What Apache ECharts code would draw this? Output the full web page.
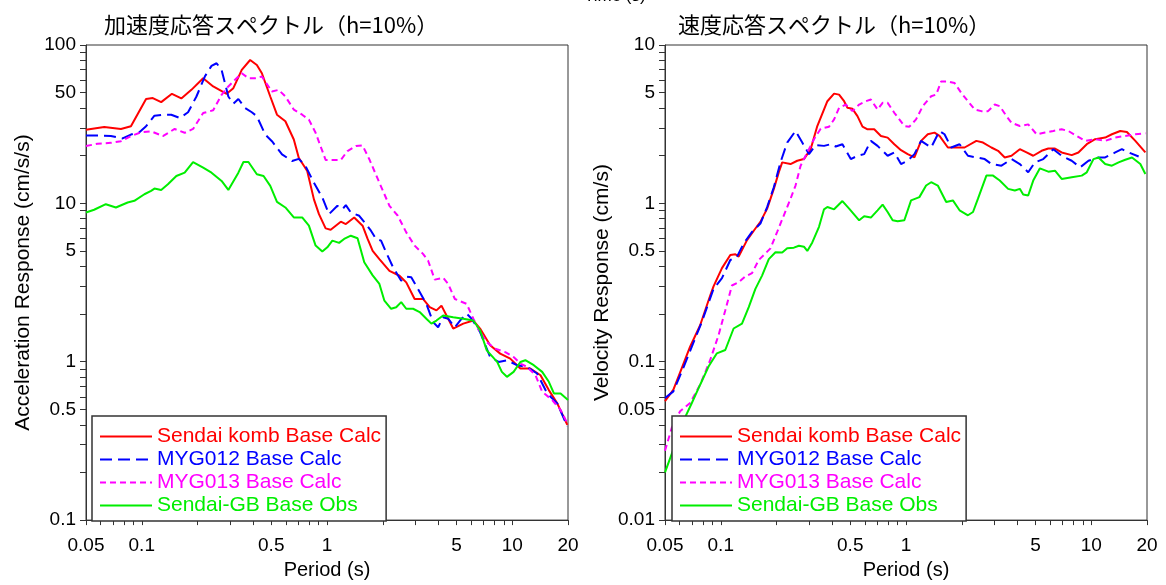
<!DOCTYPE html>
<html>
<head>
<meta charset="utf-8">
<script src="https://cdn.jsdelivr.net/npm/echarts@6/dist/echarts.min.js"></script>
<style>
  html, body { margin: 0; padding: 0; background: #fff; }
  #chart { width: 1166px; height: 585px; }
</style>
</head>
<body>
<div id="chart"></div>
<script>
// 凡例名
const seriesNames = ['Sendai komb Base Calc', 'MYG012 Base Calc', 'MYG013 Base Calc', 'Sendai-GB Base Obs'];

// 加速度応答スペクトル [周期(s), 応答(cm/s/s)]
const accKomb = [[0.05,29.2],[0.0627,30.4],[0.0772,29.5],[0.0874,30.7],[0.1055,45.6],[0.1147,46.2],[0.1273,43.6],[0.1455,49.2],[0.1635,46.0],[0.1853,52.1],[0.2145,61.7],[0.243,54.7],[0.2872,49.2],[0.3122,53.4],[0.3466,69.6],[0.3847,80.4],[0.4181,74.8],[0.4451,66.3],[0.494,47.3],[0.537,36.3],[0.596,33.0],[0.662,25.3],[0.704,19.4],[0.782,16.0],[0.85,10.6],[0.905,8.55],[0.983,6.95],[1.047,6.82],[1.187,7.66],[1.264,7.40],[1.402,8.15],[1.556,7.23],[1.657,5.96],[1.764,5.01],[1.918,4.44],[2.173,3.75],[2.463,3.49],[2.678,3.17],[2.972,2.49],[3.298,2.49],[3.585,2.21],[3.897,2.11],[4.149,2.26],[4.417,1.96],[4.8,1.62],[5.441,1.74],[6.166,1.82],[6.705,1.62],[7.598,1.27],[8.61,1.125],[9.757,1.046],[11.06,0.906],[12.53,0.906],[14.21,0.822],[15.76,0.662],[17.5,0.546],[19.83,0.399]];
const accMyg012 = [[0.05,26.8],[0.0601,26.8],[0.0681,26.6],[0.0788,25.7],[0.0874,27.2],[0.0971,28.1],[0.1055,30.7],[0.1171,35.8],[0.13,36.3],[0.1443,36.3],[0.1602,34.6],[0.1778,37.6],[0.1973,47.3],[0.219,63.2],[0.238,73.8],[0.2534,76.7],[0.2698,69.6],[0.2933,47.3],[0.3122,42.6],[0.3323,45.6],[0.3613,40.0],[0.3927,37.6],[0.4181,35.5],[0.464,27.2],[0.5043,24.7],[0.5718,20.4],[0.6479,18.5],[0.704,19.1],[0.7656,17.2],[0.85,13.5],[0.9432,10.9],[1.0254,8.55],[1.138,9.65],[1.212,9.19],[1.264,9.74],[1.345,8.76],[1.493,8.35],[1.623,7.40],[1.727,6.72],[1.839,5.96],[1.958,5.82],[2.084,4.91],[2.266,3.98],[2.515,3.25],[2.678,3.44],[2.85,3.41],[3.098,2.88],[3.439,2.32],[3.738,1.78],[3.98,1.65],[4.236,1.91],[4.51,1.87],[4.901,1.65],[5.329,1.87],[5.673,2.01],[6.039,1.87],[6.705,1.54],[7.598,1.07],[8.441,0.997],[9.359,1.022],[10.61,0.951],[12.02,0.928],[13.62,0.843],[15.44,0.631],[17.5,0.546],[19.83,0.39]];
const accMyg013 = [[0.05,23.0],[0.0576,23.8],[0.0681,24.1],[0.0772,24.7],[0.0874,26.6],[0.0991,28.1],[0.1123,28.5],[0.13,26.6],[0.1505,29.5],[0.1705,27.9],[0.1892,29.5],[0.2145,37.2],[0.243,38.7],[0.2698,48.5],[0.2933,54.7],[0.3188,60.3],[0.3466,66.3],[0.3767,61.7],[0.4095,61.7],[0.4451,63.2],[0.5043,50.9],[0.5482,52.1],[0.596,47.3],[0.662,39.1],[0.7345,36.3],[0.7985,33.8],[0.868,27.9],[0.983,18.8],[1.092,18.8],[1.187,18.8],[1.29,21.4],[1.432,23.0],[1.556,23.2],[1.692,19.0],[1.918,13.5],[2.173,9.65],[2.412,8.35],[2.678,6.56],[2.972,5.41],[3.298,4.80],[3.511,4.36],[3.817,3.30],[4.236,3.39],[4.51,3.10],[4.901,2.49],[5.673,2.32],[6.166,1.87],[6.705,1.54],[7.288,1.33],[8.088,1.21],[9.167,1.15],[10.17,1.07],[11.06,0.974],[12.02,0.928],[13.35,0.822],[14.51,0.646],[16.44,0.573],[18.24,0.496],[19.83,0.409]];
const accGB = [[0.05,8.76],[0.0553,9.11],[0.064,9.88],[0.0725,9.42],[0.0839,10.13],[0.0912,10.38],[0.1033,11.42],[0.1123,11.99],[0.1171,12.4],[0.1273,12.16],[0.1384,13.2],[0.1537,14.89],[0.1705,15.63],[0.1892,18.24],[0.2145,16.8],[0.238,15.63],[0.2698,13.85],[0.2933,12.16],[0.3323,15.63],[0.3539,18.24],[0.3767,18.24],[0.4181,15.26],[0.4545,14.89],[0.494,12.89],[0.537,10.22],[0.596,9.42],[0.662,8.15],[0.7345,8.15],[0.7985,7.23],[0.868,5.41],[0.9432,4.96],[1.004,5.28],[1.069,5.82],[1.162,5.63],[1.237,5.96],[1.345,6.25],[1.462,6.02],[1.589,4.25],[1.764,3.51],[1.918,3.1],[2.041,2.43],[2.219,2.16],[2.364,2.21],[2.515,2.38],[2.678,2.16],[2.915,2.16],[3.164,2.06],[3.439,1.87],[3.661,1.74],[3.897,1.82],[4.236,1.96],[4.8,1.91],[5.441,1.87],[6.166,1.82],[6.705,1.58],[7.288,1.18],[8.29,0.997],[8.79,0.863],[9.359,0.803],[10.17,0.863],[11.06,0.997],[11.77,1.022],[13.07,0.951],[14.51,0.863],[15.76,0.747],[16.79,0.631],[18.24,0.631],[20,0.573]];

// 速度応答スペクトル [周期(s), 応答(cm/s)]
const velKomb = [[0.05,0.0563],[0.0555,0.0666],[0.0616,0.091],[0.0683,0.1244],[0.0774,0.170],[0.0877,0.262],[0.0914,0.299],[0.1015,0.39],[0.1126,0.472],[0.1199,0.477],[0.1249,0.461],[0.1386,0.586],[0.1538,0.694],[0.1637,0.764],[0.178,0.926],[0.1934,1.235],[0.2058,1.571],[0.2146,1.815],[0.238,1.771],[0.2588,1.858],[0.2812,1.904],[0.3056,2.199],[0.332,3.078],[0.3763,4.416],[0.409,4.932],[0.4352,4.861],[0.4633,4.416],[0.483,4.01],[0.514,3.954],[0.547,3.556],[0.5823,3.049],[0.6199,2.934],[0.6737,2.934],[0.7321,2.666],[0.7959,2.602],[0.8647,2.363],[0.9399,2.168],[1.0214,2.046],[1.11,1.95],[1.206,2.48],[1.311,2.731],[1.425,2.798],[1.517,2.666],[1.683,2.253],[1.829,2.253],[2.072,2.253],[2.397,2.48],[2.605,2.421],[2.89,2.253],[3.141,2.147],[3.413,1.95],[3.71,1.998],[4.116,2.199],[4.474,2.096],[4.862,1.998],[5.395,2.147],[5.864,2.22],[6.373,2.22],[6.925,2.096],[7.845,2.017],[8.528,2.096],[9.461,2.363],[10.5,2.541],[11.89,2.602],[12.93,2.731],[14.34,2.865],[15.58,2.823],[17.3,2.48],[19.6,2.096]];
const velMyg012 = [[0.05,0.059],[0.0555,0.065],[0.0616,0.0867],[0.0698,0.1244],[0.079,0.1784],[0.0914,0.2884],[0.1015,0.337],[0.1126,0.439],[0.1224,0.461],[0.133,0.559],[0.1475,0.661],[0.1637,0.746],[0.178,0.948],[0.1934,1.265],[0.2101,1.815],[0.2284,2.421],[0.2533,2.865],[0.2754,2.421],[0.2993,2.046],[0.3253,2.329],[0.3609,2.307],[0.3923,2.363],[0.4175,2.286],[0.4537,2.363],[0.5035,1.904],[0.547,1.998],[0.5945,2.046],[0.6461,2.48],[0.7021,2.307],[0.7959,1.998],[0.8647,2.096],[0.9399,1.771],[1.0214,1.858],[1.11,2.046],[1.206,2.48],[1.367,2.253],[1.517,2.865],[1.614,2.731],[1.754,2.253],[1.946,2.363],[2.16,1.998],[2.397,1.95],[2.66,1.904],[2.89,1.771],[3.275,1.729],[3.71,1.904],[4.116,1.771],[4.568,1.571],[4.964,1.815],[5.508,1.904],[6.242,2.199],[6.925,1.998],[7.845,1.858],[8.707,1.688],[9.661,1.858],[10.95,1.95],[11.89,1.95],[13.48,2.096],[14.64,2.199],[15.92,2.096],[18.03,1.978]];
const velMyg013 = [[0.05,0.0274],[0.0544,0.0383],[0.0603,0.0487],[0.0683,0.0549],[0.0774,0.0716],[0.0877,0.1026],[0.0973,0.1472],[0.1058,0.2111],[0.1149,0.3029],[0.1249,0.3176],[0.1358,0.3455],[0.1475,0.3626],[0.1604,0.439],[0.1707,0.472],[0.1855,0.52],[0.2016,0.661],[0.2191,0.841],[0.238,1.069],[0.2533,1.296],[0.2698,1.729],[0.2932,2.096],[0.3186,2.541],[0.3462,2.963],[0.3842,3.049],[0.409,3.39],[0.4352,4.01],[0.473,4.208],[0.514,3.823],[0.5586,4.208],[0.6071,4.416],[0.6461,4.523],[0.7021,3.915],[0.7476,4.311],[0.7959,4.311],[0.8647,3.732],[0.9204,3.39],[0.9797,3.078],[1.043,3.049],[1.133,3.39],[1.232,4.11],[1.367,4.747],[1.455,4.861],[1.549,5.891],[1.683,5.891],[1.829,5.752],[1.988,4.981],[2.16,4.416],[2.348,3.915],[2.551,3.823],[2.773,3.823],[3.013,4.208],[3.207,4.11],[3.485,3.556],[3.71,3.231],[4.116,3.078],[4.568,3.154],[5.069,2.731],[5.625,2.798],[6.242,2.865],[6.925,2.934],[7.523,2.865],[8.35,2.666],[9.266,2.48],[10.5,2.541],[11.89,2.48],[13.48,2.602],[15.26,2.666],[17.3,2.731],[19.6,2.77]];
const velGB = [[0.05,0.02],[0.0555,0.028],[0.0616,0.0402],[0.0698,0.0549],[0.0774,0.0716],[0.0859,0.0932],[0.0953,0.113],[0.1058,0.1186],[0.1173,0.1621],[0.1302,0.1742],[0.1416,0.2215],[0.1538,0.2884],[0.1671,0.3498],[0.1817,0.4446],[0.1974,0.491],[0.2146,0.489],[0.2284,0.52],[0.2482,0.525],[0.2642,0.54],[0.2812,0.533],[0.2932,0.5005],[0.312,0.567],[0.3391,0.711],[0.3609,0.917],[0.3763,0.948],[0.409,0.917],[0.4537,1.034],[0.4932,0.926],[0.5586,0.782],[0.5945,0.829],[0.6461,0.813],[0.7021,0.904],[0.7476,0.981],[0.7959,0.882],[0.847,0.782],[0.9016,0.771],[0.9797,0.782],[1.065,1.044],[1.181,1.095],[1.284,1.296],[1.367,1.36],[1.485,1.296],[1.648,1.019],[1.791,1.044],[1.946,0.904],[2.16,0.841],[2.3,0.882],[2.447,1.07],[2.716,1.497],[2.951,1.497],[3.207,1.393],[3.559,1.235],[3.868,1.206],[4.116,1.235],[4.292,1.138],[4.568,1.122],[4.862,1.393],[5.284,1.664],[5.864,1.586],[6.373,1.609],[6.925,1.427],[7.845,1.462],[8.89,1.497],[9.461,1.571],[10.28,1.904],[10.95,1.95],[11.89,1.771],[12.93,1.729],[14.05,1.815],[15.26,1.886],[16.6,1.95],[18.41,1.771],[19.6,1.534]];

// 目盛り
const periodLabels = [0.05, 0.1, 0.5, 1, 5, 10, 20];
const periodTicks = [0.05, 0.06, 0.07, 0.08, 0.09, 0.1, 0.2, 0.3, 0.4, 0.5, 0.6, 0.7, 0.8, 0.9, 1, 2, 3, 4, 5, 6, 7, 8, 9, 10, 20];
const accLabels = [0.1, 0.5, 1, 5, 10, 50, 100];
const accTicks = [0.1, 0.2, 0.3, 0.4, 0.5, 0.6, 0.7, 0.8, 0.9, 1, 2, 3, 4, 5, 6, 7, 8, 9, 10, 20, 30, 40, 50, 60, 70, 80, 90, 100];
const velLabels = [0.01, 0.05, 0.1, 0.5, 1, 5, 10];
const velTicks = [0.01, 0.02, 0.03, 0.04, 0.05, 0.06, 0.07, 0.08, 0.09, 0.1, 0.2, 0.3, 0.4, 0.5, 0.6, 0.7, 0.8, 0.9, 1, 2, 3, 4, 5, 6, 7, 8, 9, 10];

const colors = ['#ff0000', '#0000ff', '#ff00ff', '#00ee00'];
const dashes = ['solid', [12, 6], [6, 4], 'solid'];
const latin = '"Liberation Sans", Arial, sans-serif';
const cjk = '"Noto Sans CJK JP", sans-serif';

const fmt = (v) => String(+Number(v).toPrecision(4));

function makeXAxis(gridIndex) {
    return {
        type: 'log', logBase: 10, gridIndex: gridIndex,
        min: 0.05, max: 20,
        name: 'Period (s)', nameLocation: 'middle', nameGap: 32,
        nameTextStyle: { fontFamily: latin, fontSize: 20, color: '#000' },
        axisLine: { lineStyle: { color: '#333', width: 1 } },
        axisTick: { inside: false, length: 5, customValues: periodTicks, lineStyle: { color: '#333' } },
        axisLabel: { customValues: periodLabels, formatter: fmt, margin: 16, fontFamily: latin, fontSize: 19, color: '#000' },
        splitLine: { show: false },
    };
}

function makeYAxis(gridIndex, name, min, max, labels, ticks) {
    return {
        type: 'log', logBase: 10, gridIndex: gridIndex,
        min: min, max: max,
        name: name, nameLocation: 'middle', nameGap: 52,
        nameTextStyle: { fontFamily: latin, fontSize: 21, color: '#000' },
        axisLine: { lineStyle: { color: '#333', width: 1 } },
        axisTick: { inside: false, length: 6, customValues: ticks, lineStyle: { color: '#333' } },
        axisLabel: { customValues: labels, formatter: fmt, margin: 10, fontFamily: latin, fontSize: 19, color: '#000' },
        splitLine: { show: false },
    };
}

function makeLegend(left) {
    return {
        orient: 'vertical', left: left, top: 416,
        padding: [10, 5, 5, 7], itemWidth: 52, itemHeight: 14, itemGap: 2,
        backgroundColor: '#fff', borderColor: '#333', borderWidth: 1.5, borderRadius: 0,
        z: 10, selectedMode: false,
        // 凡例の丸印は消して線だけ表示
        itemStyle: { color: 'transparent', borderColor: 'transparent', borderWidth: 0, opacity: 0 },
        textStyle: { fontFamily: latin, fontSize: 21 },
        data: seriesNames.map((n, i) => ({ name: n, textStyle: { color: colors[i] } })),
    };
}

function makeLine(name, data, i, axisIndex) {
    return {
        name: name, type: 'line', data: data,
        xAxisIndex: axisIndex, yAxisIndex: axisIndex,
        symbol: 'none', animation: false, clip: true,
        lineStyle: { color: colors[i], width: 2, type: dashes[i] },
        itemStyle: { color: colors[i] },
    };
}

const myChart = echarts.init(document.getElementById('chart'), null, { renderer: 'canvas' });

myChart.setOption({
    backgroundColor: '#fff',
    animation: false,
    title: [
        { text: '加速度応答スペクトル（h=10%）', left: 104, top: 14, padding: 0,
          textStyle: { fontFamily: cjk, fontSize: 22, fontWeight: 'normal', color: '#000' } },
        { text: '速度応答スペクトル（h=10%）', left: 678, top: 14, padding: 0,
          textStyle: { fontFamily: cjk, fontSize: 22, fontWeight: 'normal', color: '#000' } },
    ],
    graphic: [
        { type: 'text', left: 584, top: -12, style: { text: 'Time (s)', font: '17px ' + latin, fill: '#000' } },
    ],
    grid: [
        { left: 86, top: 45, width: 482, height: 481, show: true, borderColor: '#333', borderWidth: 1, containLabel: false },
        { left: 665, top: 45, width: 482, height: 481, show: true, borderColor: '#333', borderWidth: 1, containLabel: false },
    ],
    legend: [makeLegend(92), makeLegend(672)],
    xAxis: [makeXAxis(0), makeXAxis(1)],
    yAxis: [
        makeYAxis(0, 'Acceleration Response (cm/s/s)', 0.1, 100, accLabels, accTicks),
        makeYAxis(1, 'Velocity Response (cm/s)', 0.01, 10, velLabels, velTicks),
    ],
    series: [
        makeLine(seriesNames[0], accKomb, 0, 0),
        makeLine(seriesNames[1], accMyg012, 1, 0),
        makeLine(seriesNames[2], accMyg013, 2, 0),
        makeLine(seriesNames[3], accGB, 3, 0),
        makeLine(seriesNames[0], velKomb, 0, 1),
        makeLine(seriesNames[1], velMyg012, 1, 1),
        makeLine(seriesNames[2], velMyg013, 2, 1),
        makeLine(seriesNames[3], velGB, 3, 1),
    ],
});
</script>
</body>
</html>
